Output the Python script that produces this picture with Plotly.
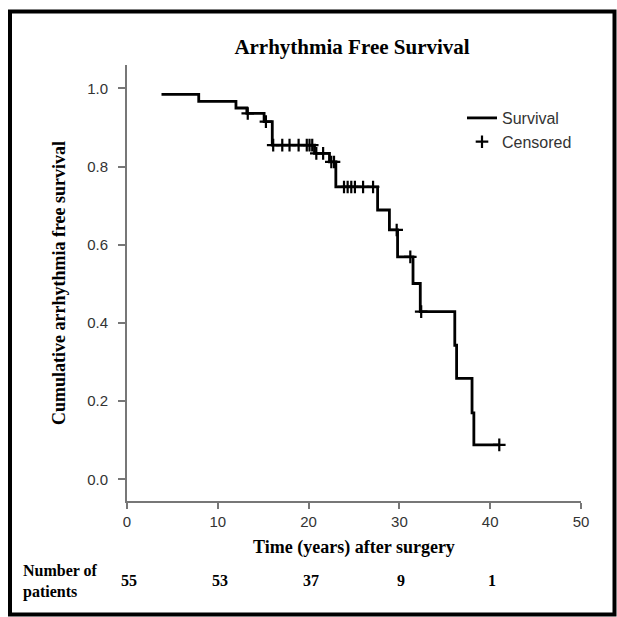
import plotly.graph_objects as go

# Kaplan-Meier step curve (time in years, cumulative survival)
step_time = [3.8, 7.9, 12.0, 13.2, 15.1, 16.0, 20.65, 22.3, 23.0, 27.6, 28.9,
             29.8, 31.5, 32.3, 36.1, 36.3, 38.0, 38.2, 41.0]
step_surv = [0.985, 0.967, 0.950, 0.936, 0.915, 0.855, 0.834, 0.812, 0.748, 0.689,
             0.638, 0.569, 0.501, 0.429, 0.343, 0.258, 0.170, 0.088, 0.088]

# Censored observations
cens_time = [13.3, 15.3, 16.1, 17.1, 17.9, 18.9, 19.8, 20.1, 20.4, 20.85, 21.6,
             22.5, 22.8, 23.9, 24.3, 24.7, 25.1, 26.0, 27.1, 29.7, 31.2, 32.4, 41.0]
cens_surv = [0.936, 0.915, 0.855, 0.855, 0.855, 0.855, 0.855, 0.855, 0.855, 0.834, 0.834,
             0.812, 0.812, 0.748, 0.748, 0.748, 0.748, 0.748, 0.748, 0.638, 0.569, 0.429, 0.088]

# Number at risk
risk_time = [0, 10, 20, 30, 40]
risk_n = ["55", "53", "37", "9", "1"]

x_ticks = [0, 10, 20, 30, 40, 50]
y_ticks = [0.0, 0.2, 0.4, 0.6, 0.8, 1.0]

W, H = 617, 617
ML, MR, MT, MB = 127, 36, 65, 116
PW, PH = W - ML - MR, H - MT - MB

def px(x):
    return (x - ML) / PW

def py(y):
    return (H - MB - y) / PH

SERIF = "Liberation Serif, Times New Roman, serif"
SANS = "Liberation Sans, Arial, sans-serif"
AXIS_COL = "#777777"
TICK_COL = "#333333"

fig = go.Figure()
fig.add_trace(go.Scatter(
    x=step_time, y=step_surv, mode="lines", line_shape="hv",
    line=dict(color="black", width=2.8), name="Survival"))
fig.add_trace(go.Scatter(
    x=cens_time, y=cens_surv, mode="markers", name="Censored",
    marker=dict(symbol="cross-thin", size=9, color="black",
                line=dict(color="black", width=2.2))))

annotations = []
for t, n in zip(risk_time, risk_n):
    annotations.append(dict(x=t, y=py(580), xref="x", yref="paper", text="<b>" + n + "</b>",
                            showarrow=False, xanchor="center", yanchor="middle",
                            xshift=2, font=dict(family=SERIF, size=16, color="black")))
annotations.append(dict(x=px(21), y=py(581), xref="paper", yref="paper",
                        text="<b>Number of</b><br><b>patients</b>", align="left",
                        showarrow=False, xanchor="left", yanchor="middle",
                        font=dict(family=SERIF, size=16, color="black")))

shapes = [dict(type="rect", xref="paper", yref="paper",
               x0=px(10), x1=px(614.5), y0=py(614.5), y1=py(11.5),
               line=dict(color="black", width=4))]

fig.update_layout(
    width=W, height=H,
    margin=dict(l=ML, r=MR, t=MT, b=MB, autoexpand=False),
    paper_bgcolor="white", plot_bgcolor="white",
    title=dict(text="<b>Arrhythmia Free Survival</b>", x=352 / W, xref="container",
               xanchor="center", y=(H - 47) / H, yanchor="middle",
               font=dict(family=SERIF, size=21, color="black")),
    xaxis=dict(range=[0, 50], tickvals=x_ticks, ticktext=[str(v) for v in x_ticks],
               showline=True, linecolor=AXIS_COL, linewidth=2, mirror=False,
               ticks="outside", ticklen=6, tickwidth=2, tickcolor=AXIS_COL,
               showgrid=False, zeroline=False,
               tickfont=dict(family=SANS, size=15, color=TICK_COL),
               title=dict(text="<b>Time (years) after surgery</b>", standoff=11,
                          font=dict(family=SERIF, size=18, color="black"))),
    yaxis=dict(range=[-0.0555, 1.06], tickvals=y_ticks,
               ticktext=[f"{v:.1f}" for v in y_ticks],
               showline=True, linecolor=AXIS_COL, linewidth=2,
               ticks="outside", ticklen=7, tickwidth=2, tickcolor=AXIS_COL,
               ticklabelstandoff=7,
               showgrid=False, zeroline=False,
               tickfont=dict(family=SANS, size=15, color=TICK_COL),
               title=dict(text="<b>Cumulative arrhythmia free survival</b>", standoff=17,
                          font=dict(family=SERIF, size=18, color="black"))),
    showlegend=True,
    legend=dict(x=px(462), y=py(101), xanchor="left", yanchor="top",
                bgcolor="rgba(0,0,0,0)", tracegroupgap=0, itemwidth=30,
                font=dict(family=SANS, size=16, color=TICK_COL)),
    annotations=annotations,
    shapes=shapes,
)

fig.write_html("out.html", config={"displayModeBar": False},
               post_script="document.body.style.margin='0px';document.body.style.overflow='hidden';")
